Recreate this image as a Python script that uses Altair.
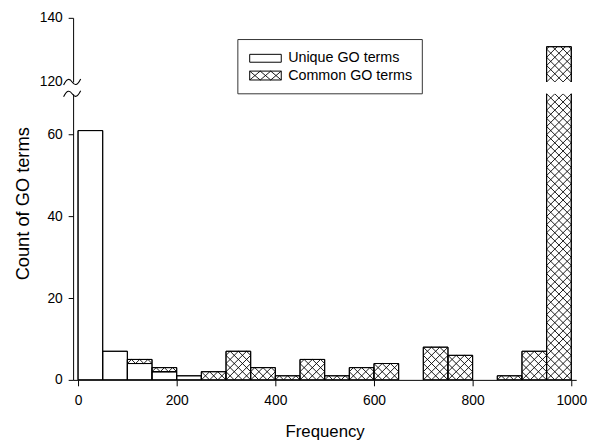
import altair as alt
import numpy as np
import pandas as pd

# ---------------- data ----------------
BIN = 50
bin_starts = list(range(0, 1000, BIN))
unique_counts = [61, 7, 4, 2, 1, 0, 0, 0, 0, 0, 0, 0, 0, 0, 0, 0, 0, 0, 0, 0]
common_counts = [0, 0, 1, 1, 0, 2, 7, 3, 1, 5, 1, 3, 4, 0, 8, 6, 0, 1, 7, 131]
series_names = ["Unique GO terms", "Common GO terms"]
x_ticks = [0, 200, 400, 600, 800, 1000]
y_ticks_low = [0, 20, 40, 60]
y_ticks_high = [120, 140]
x_title = "Frequency"
y_title = "Count of GO terms"

FONT = "Liberation Sans"
W = 510
H_UP, H_LOW = 65, 290
LOW_DOM = [0, 70]
UP_DOM = [120, 140]

rows = []
for s, u, c in zip(bin_starts, unique_counts, common_counts):
    if u > 0:
        rows.append(dict(x0=s, x1=s + BIN, y0=0, y1=u, series=series_names[0]))
    if c > 0:
        rows.append(dict(x0=s, x1=s + BIN, y0=u, y1=u + c, series=series_names[1]))
bars = pd.DataFrame(rows)


def hatch_segments(x0, x1, y0, y1, cw, ch, ox=0.0, oy=0.0):
    segs = []
    ua, ub = (x0 - ox) / cw, (x1 - ox) / cw
    va, vb = (y0 - oy) / ch, (y1 - oy) / ch
    for n in range(int(np.floor(va - ub)) - 1, int(np.ceil(vb - ua)) + 2):
        lo, hi = max(ua, va - n), min(ub, vb - n)
        if hi - lo > 1e-9:
            segs.append((ox + lo * cw, oy + (lo + n) * ch, ox + hi * cw, oy + (hi + n) * ch))
    for n in range(int(np.floor(va + ua)) - 1, int(np.ceil(vb + ub)) + 2):
        lo, hi = max(ua, n - vb), min(ub, n - va)
        if hi - lo > 1e-9:
            segs.append((ox + lo * cw, oy + (n - lo) * ch, ox + hi * cw, oy + (n - hi) * ch))
    return segs


def hatch_df(dom, ch):
    segs = []
    for r in bars[bars.series == series_names[1]].itertuples():
        y0, y1 = max(r.y0, dom[0]), min(r.y1, dom[1])
        if y1 > y0:
            segs += hatch_segments(r.x0, r.x1, y0, y1, BIN / 3, ch, 0, dom[0])
    return pd.DataFrame(segs, columns=["x0", "y0", "x1", "y1"])


x_scale = alt.Scale(domain=[-10, 1010], nice=False, zero=False)
one = pd.DataFrame({"k": [0]})
squiggle = "M-1,0.35C-0.6,-0.45 -0.3,-0.45 0,0C0.3,0.45 0.6,0.45 1,-0.35"


def panel(dom, h, ch, yvals, show_x, title):
    ys = alt.Scale(domain=dom, nice=False, zero=False)
    if title:
        yaxis = alt.Axis(values=yvals, title=title, tickSize=5, labelPadding=6,
                         titlePadding=15, titleFontWeight="normal", titleFontSize=18.5,
                         labelFontSize=14, titleY=111)
    else:
        yaxis = alt.Axis(values=yvals, title=None, tickSize=5, labelPadding=6,
                         labelFontSize=14,
                         tickOpacity={"condition": {"test": "datum.value == 120", "value": 0}, "value": 1})
    if show_x:
        xaxis = alt.Axis(values=x_ticks, format="d", title=x_title, tickSize=6, labelPadding=8,
                         titlePadding=16, titleFontWeight="normal", titleFontSize=17,
                         labelFontSize=14)
    else:
        xaxis = None
    rect = alt.Chart(bars).mark_rect(fill="white", stroke="black", strokeWidth=1, clip=True).encode(
        x=alt.X("x0:Q", scale=x_scale, axis=xaxis),
        x2="x1:Q",
        y=alt.Y("y0:Q", scale=ys, axis=yaxis),
        y2="y1:Q",
    )
    hatch = alt.Chart(hatch_df(dom, ch)).mark_rule(stroke="black", strokeWidth=0.9, clip=True).encode(
        x=alt.X("x0:Q", scale=x_scale),
        x2="x1:Q",
        y=alt.Y("y0:Q", scale=ys),
        y2="y1:Q",
    )
    outline = alt.Chart(bars).mark_rect(fill=None, stroke="black", strokeWidth=1, clip=True).encode(
        x=alt.X("x0:Q", scale=x_scale),
        x2="x1:Q",
        y=alt.Y("y0:Q", scale=ys),
        y2="y1:Q",
    )
    brk = alt.Chart(one).mark_point(shape=squiggle, filled=False, stroke="black",
                                    strokeWidth=1.1, size=300, opacity=1).encode(
        x=alt.value(-1), y=alt.value(h if not title else 0))
    return [rect, hatch, outline, brk]


# legend (pixel layout inside the upper panel)
legend_layers = [
    alt.Chart(one).mark_rect(fill="white", stroke="#333", strokeWidth=1).encode(
        x=alt.value(167), x2=alt.value(354), y=alt.value(22), y2=alt.value(77)),
    alt.Chart(one).mark_rect(fill="white", stroke="black", strokeWidth=1).encode(
        x=alt.value(179), x2=alt.value(211), y=alt.value(37), y2=alt.value(45)),
    alt.Chart(one).mark_rect(fill="white", stroke="black", strokeWidth=1).encode(
        x=alt.value(179), x2=alt.value(211), y=alt.value(54), y2=alt.value(63)),
]
for (a, b, c, d) in hatch_segments(179, 211, 54, 63, 32 / 3, 9, 179, 54):
    legend_layers.append(
        alt.Chart(one).mark_rule(stroke="black", strokeWidth=0.9).encode(
            x=alt.value(a), y=alt.value(b), x2=alt.value(c), y2=alt.value(d)))
for i, name in enumerate(series_names):
    legend_layers.append(
        alt.Chart(one).mark_text(align="left", baseline="middle", fontSize=14.5, font=FONT,
                                 color="black").encode(
            x=alt.value(218), y=alt.value(41 + 18 * i), text=alt.value(name)))

upper = alt.layer(*(panel(UP_DOM, H_UP, 20 * (25 / 3) / 65, y_ticks_high, False, None) + legend_layers)
                  ).properties(width=W, height=H_UP)
lower = alt.layer(*panel(LOW_DOM, H_LOW, 2.0, y_ticks_low, True, y_title)).properties(width=W, height=H_LOW)

chart = alt.vconcat(upper, lower, spacing=12, bounds="flush").properties(
    padding={"left": 5, "top": 0, "right": 5, "bottom": 0},
    background="white",
).configure_view(strokeWidth=0).configure_axis(
    domainColor="black", tickColor="black", labelColor="black", titleColor="black",
    labelFont=FONT, titleFont=FONT, grid=False, domainWidth=1, tickWidth=1,
)

chart.save("out.html", embed_options={"renderer": "svg", "actions": False})
